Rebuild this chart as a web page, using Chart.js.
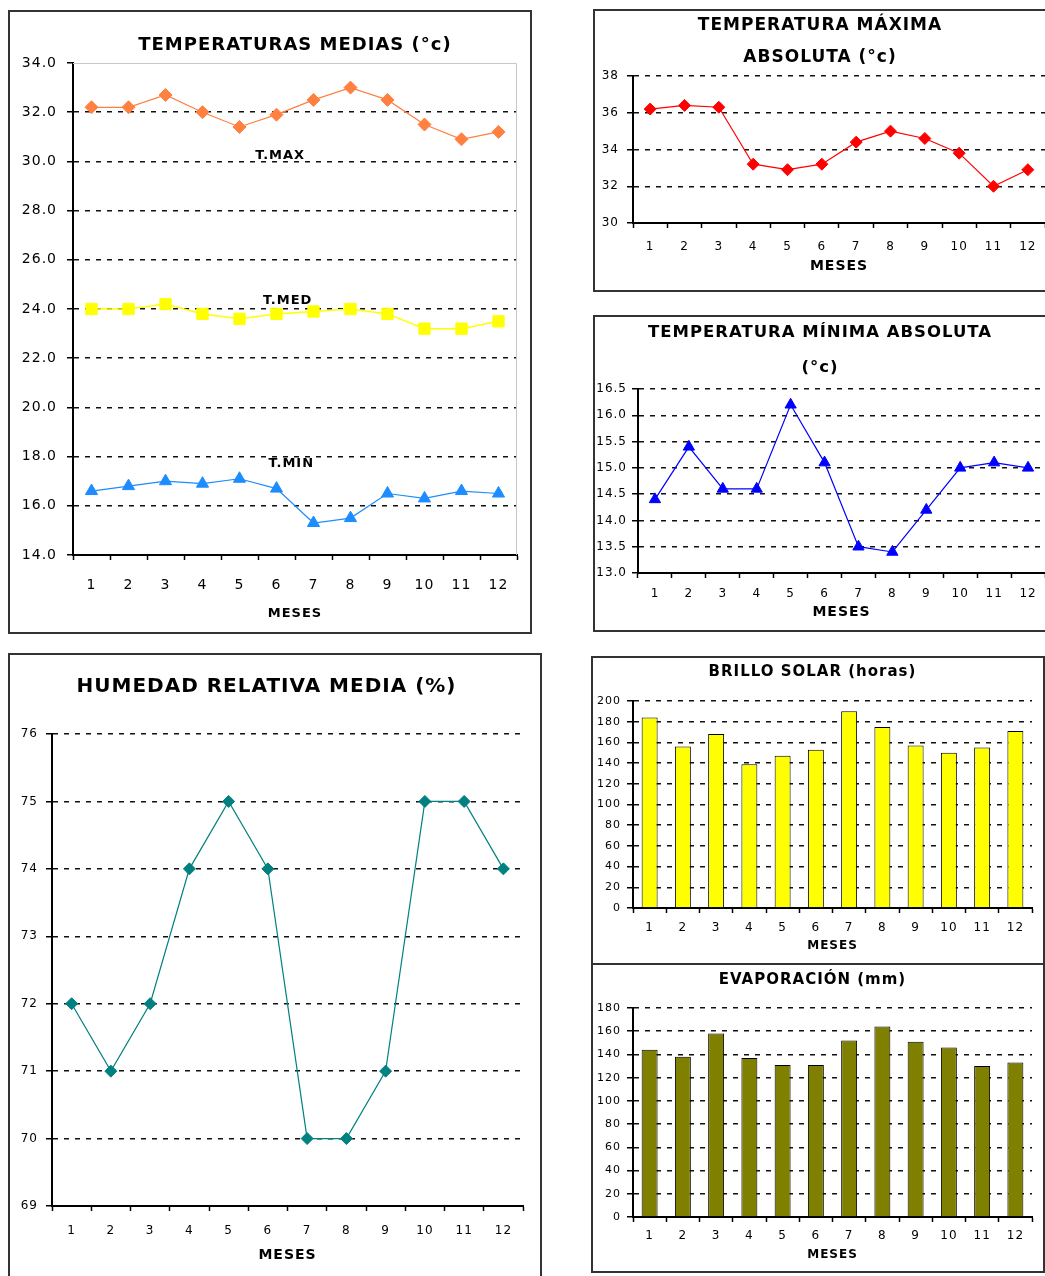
<!DOCTYPE html>
<html>
<head>
<meta charset="utf-8">
<script src="https://cdn.jsdelivr.net/npm/chart.js@4.4.1/dist/chart.umd.min.js"></script>
<style>
  body { margin: 0; background: #fff; overflow: hidden; width: 1045px; height: 1276px; position: relative; }
  .box { position: absolute; border: 2px solid #333; box-sizing: border-box; background: #fff; }
  .box canvas { position: absolute; left: 0; top: 0; }
</style>
</head>
<body>
<div class="box" id="b1"><canvas></canvas></div>
<div class="box" id="b2"><canvas></canvas></div>
<div class="box" id="b3"><canvas></canvas></div>
<div class="box" id="b4"><canvas></canvas></div>
<div class="box" id="b5"><canvas></canvas></div>
<div class="box" id="b6"><canvas></canvas></div>
<script>
// datos
var meses = ["1", "2", "3", "4", "5", "6", "7", "8", "9", "10", "11", "12"];
var series = ["T.MAX", "T.MED", "T.MIN"];
var tMax = [32.2, 32.2, 32.7, 32.0, 31.4, 31.9, 32.5, 33.0, 32.5, 31.5, 30.9, 31.2];
var tMed = [24.0, 24.0, 24.2, 23.8, 23.6, 23.8, 23.9, 24.0, 23.8, 23.2, 23.2, 23.5];
var tMin = [16.6, 16.8, 17.0, 16.9, 17.1, 16.7, 15.3, 15.5, 16.5, 16.3, 16.6, 16.5];
var tMaxAbs = [36.2, 36.4, 36.3, 33.2, 32.9, 33.2, 34.4, 35.0, 34.6, 33.8, 32.0, 32.9];
var tMinAbs = [14.4, 15.4, 14.6, 14.6, 16.2, 15.1, 13.5, 13.4, 14.2, 15.0, 15.1, 15.0];
var humedad = [72, 71, 72, 74, 75, 74, 70, 70, 71, 75, 75, 74];
var brillo = [184, 156, 168, 139, 147, 153, 190, 175, 157, 150, 155, 171];
var evaporacion = [144, 138, 158, 137, 131, 131, 152, 164, 151, 146, 130, 133];

// ejes: min, max, paso
var ejeMedias = [14, 34, 2];
var ejeMaxAbs = [30, 38, 2];
var ejeMinAbs = [13, 16.5, 0.5];
var ejeHumedad = [69, 76, 1];
var ejeBrillo = [0, 200, 20];
var ejeEvap = [0, 180, 20];

Chart.defaults.font.family = "'DejaVu Sans', sans-serif";
Chart.defaults.color = "#000";

// espaciado de letras como en el original
Chart.register({
  id: "espaciado",
  beforeDraw: function (chart) {
    chart.ctx.letterSpacing = (chart.options.plugins.espaciado || {}).px || "0px";
  }
});

// marco gris y nombres de las series (solo en el primer grafico)
var extrasMedias = {
  id: "extrasMedias",
  beforeDatasetsDraw: function (chart) {
    var a = chart.chartArea, ctx = chart.ctx;
    ctx.save();
    ctx.strokeStyle = "#c8c8c8";
    ctx.lineWidth = 1;
    ctx.beginPath();
    ctx.moveTo(a.left, a.top + 0.5);
    ctx.lineTo(a.right - 0.5, a.top + 0.5);
    ctx.lineTo(a.right - 0.5, a.bottom);
    ctx.stroke();
    ctx.restore();
  },
  afterDatasetsDraw: function (chart) {
    var ctx = chart.ctx, x = chart.scales.x, y = chart.scales.y;
    var posX = [5.1, 5.3, 5.4], posY = [30.25, 24.35, 17.7];
    ctx.save();
    ctx.font = "bold 13px 'DejaVu Sans'";
    ctx.fillStyle = "#000";
    ctx.textAlign = "center";
    ctx.textBaseline = "middle";
    chart.data.datasets.forEach(function (ds, i) {
      ctx.fillText(ds.label, x.getPixelForValue(posX[i]), y.getPixelForValue(posY[i]));
    });
    ctx.restore();
  }
};

function grafico(p) {
  var div = document.getElementById(p.id);
  div.style.left = p.box[0] + "px";
  div.style.top = p.box[1] + "px";
  div.style.width = p.box[2] + "px";
  div.style.height = p.box[3] + "px";
  var ox = p.box[0] + 2, oy = p.box[1] + 2;
  var cw = p.box[2] - 4, ch = p.box[3] - 4;
  var cv = div.querySelector("canvas");
  cv.width = cw;
  cv.height = ch;

  var L = p.titleLine;
  var padTop = p.titleY - oy - L / 2;
  var padBot = (p.plot[1] - oy) - padTop - L * p.title.length;
  var yW = p.plot[0] - ox;
  var xH = ch - (p.plot[3] - oy);
  var eje = p.eje;

  return new Chart(cv, {
    type: p.type,
    data: { labels: meses, datasets: p.datasets },
    plugins: p.plugins || [],
    options: {
      responsive: false,
      animation: false,
      layout: { padding: { left: 0, top: 0, bottom: 0, right: ox + cw - p.plot[2] } },
      plugins: {
        legend: { display: false },
        tooltip: { enabled: false },
        espaciado: { px: "1px" },
        title: {
          display: true,
          fullSize: !p.frame,
          text: p.title,
          color: "#000",
          font: { size: p.titleSize, weight: "bold", lineHeight: L + "px" },
          padding: { top: padTop, bottom: padBot }
        }
      },
      scales: {
        x: {
          offset: true,
          grid: { display: true, drawOnChartArea: false, drawTicks: true, tickLength: 5, tickColor: "#000", tickWidth: 1.5, offset: true },
          border: { color: "#000", width: 2 },
          ticks: {
            autoSkip: false, maxRotation: 0, color: "#000",
            font: { size: p.tickSize },
            padding: p.xLblY - p.plot[3] - 5 - p.tickSize * 0.6
          },
          title: {
            display: true, text: "MESES", color: "#000",
            font: { size: p.mesesSize, weight: "bold" },
            padding: { top: 0, bottom: (oy + ch) - p.mesesY - p.mesesSize * 0.6 }
          },
          afterFit: function (s) { s.height = xH; }
        },
        y: {
          min: eje[0], max: eje[1],
          grid: {
            color: function (c) { return (p.frame && c.tick && c.tick.value === eje[1]) ? "rgba(0,0,0,0)" : "#111"; },
            lineWidth: 1.5, tickLength: 6, tickColor: "#000"
          },
          border: { color: "#000", width: 2, dash: [5, 6] },
          ticks: {
            stepSize: eje[2], color: "#000",
            font: { size: p.yTickSize || p.tickSize },
            padding: p.plot[0] - 6 - p.yLblR,
            callback: function (v) { return v.toFixed(p.dec); }
          },
          afterFit: function (s) { s.width = yW; }
        }
      }
    }
  });
}

function linea(label, data, color, punto, radio, ancho) {
  return {
    label: label, data: data,
    borderColor: color, backgroundColor: color,
    borderWidth: ancho, pointStyle: punto, pointRadius: radio,
    pointBackgroundColor: color, pointBorderColor: color, pointBorderWidth: 1,
    tension: 0
  };
}

function barras(label, data, color) {
  return {
    label: label, data: data,
    backgroundColor: color, borderColor: "#000", borderWidth: 1,
    barPercentage: 0.48, categoryPercentage: 1
  };
}

grafico({
  id: "b1", type: "line", box: [8, 10, 524, 624], plot: [73, 63, 517, 555],
  title: ["TEMPERATURAS MEDIAS (°c)"], titleSize: 18, titleLine: 22, titleY: 45,
  eje: ejeMedias, dec: 1, tickSize: 14, yLblR: 57, xLblY: 585, mesesY: 614, mesesSize: 13,
  frame: true, plugins: [extrasMedias],
  datasets: [
    linea(series[0], tMax, "#FF8040", "rectRot", 6.5, 1.2),
    linea(series[1], tMed, "#FFFF00", "rect", 8, 1.5),
    linea(series[2], tMin, "#1C8CFF", "triangle", 7, 1.2)
  ]
});

grafico({
  id: "b2", type: "line", box: [593, 9, 480, 283], plot: [633, 76, 1045, 223],
  title: ["TEMPERATURA MÁXIMA", "ABSOLUTA (°c)"], titleSize: 17, titleLine: 32, titleY: 26,
  eje: ejeMaxAbs, dec: 0, tickSize: 12, yLblR: 619, xLblY: 247, mesesY: 266, mesesSize: 14,
  datasets: [linea("T.MAX.ABS", tMaxAbs, "#FF0000", "rectRot", 6, 1.2)]
});

grafico({
  id: "b3", type: "line", box: [593, 315, 480, 317], plot: [638, 389, 1045, 573],
  title: ["TEMPERATURA MÍNIMA ABSOLUTA", "(°c)"], titleSize: 16.5, titleLine: 35, titleY: 333,
  eje: ejeMinAbs, dec: 1, tickSize: 12, yLblR: 627, xLblY: 594, mesesY: 612, mesesSize: 14,
  datasets: [linea("T.MIN.ABS", tMinAbs, "#0000FF", "triangle", 6.5, 1.2)]
});

grafico({
  id: "b4", type: "line", box: [8, 653, 534, 625], plot: [52, 734, 523, 1206],
  title: ["HUMEDAD RELATIVA MEDIA (%)"], titleSize: 20, titleLine: 24, titleY: 687,
  eje: ejeHumedad, dec: 0, tickSize: 12, yLblR: 38, xLblY: 1231, mesesY: 1255, mesesSize: 14,
  datasets: [linea("HUMEDAD", humedad, "#008080", "rectRot", 6, 1.2)]
});

grafico({
  id: "b5", type: "bar", box: [591, 656, 454, 309], plot: [633, 701, 1032, 908],
  title: ["BRILLO SOLAR (horas)"], titleSize: 15, titleLine: 18, titleY: 672,
  eje: ejeBrillo, dec: 0, tickSize: 12, yTickSize: 11, yLblR: 621, xLblY: 928, mesesY: 946, mesesSize: 12,
  datasets: [barras("BRILLO", brillo, "#FFFF00")]
});

grafico({
  id: "b6", type: "bar", box: [591, 963, 454, 310], plot: [633, 1008, 1032, 1217],
  title: ["EVAPORACIÓN (mm)"], titleSize: 15, titleLine: 18, titleY: 980,
  eje: ejeEvap, dec: 0, tickSize: 12, yTickSize: 11, yLblR: 621, xLblY: 1236, mesesY: 1255, mesesSize: 12,
  datasets: [barras("EVAPORACION", evaporacion, "#808000")]
});
</script>
</body>
</html>
